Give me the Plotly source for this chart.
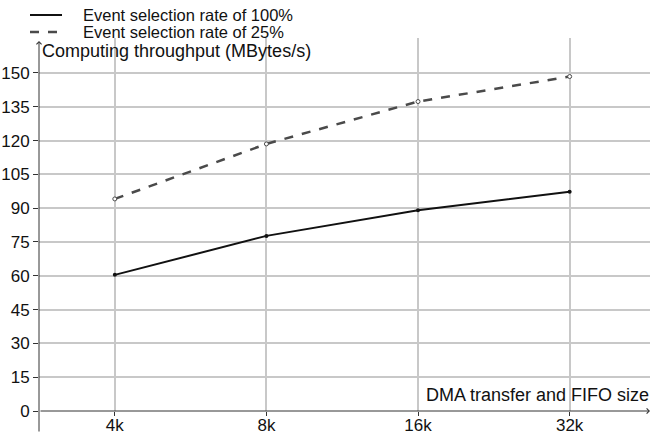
import plotly.graph_objects as go

categories = ["4k", "8k", "16k", "32k"]
rate_100 = [60.4, 77.7, 89.1, 97.3]
rate_25 = [94.1, 118.5, 137.3, 148.4]
y_ticks = [0, 15, 30, 45, 60, 75, 90, 105, 120, 135, 150]
series_names = ["Event selection rate of 100%", "Event selection rate of 25%"]

FONT = "Liberation Sans, Arial, sans-serif"

fig = go.Figure()
fig.add_trace(go.Scatter(
    x=categories, y=rate_100, mode="lines+markers", name=series_names[0],
    line=dict(color="#111111", width=2), marker=dict(size=4, color="#111111"),
    showlegend=False))
fig.add_trace(go.Scatter(
    x=categories, y=rate_25, mode="lines+markers", name=series_names[1],
    line=dict(color="#4a4a4a", width=2.5, dash="dash"),
    marker=dict(size=4, color="white", line=dict(color="#4a4a4a", width=1)),
    showlegend=False))

W, H = 655, 437
L, R, T, B = 39, 5, 38, 26

fig.update_layout(
    width=W, height=H,
    margin=dict(l=L, r=R, t=T, b=B, autoexpand=False),
    paper_bgcolor="white", plot_bgcolor="white",
    font=dict(family=FONT, size=17, color="#111111"),
    xaxis=dict(type="category", range=[-0.5, 3.53], showgrid=True, automargin=False,
               gridcolor="#c8c8c8", gridwidth=2, showline=False, zeroline=False,
               ticks="outside", ticklen=4, tickcolor="#333", tickfont=dict(size=17),
               ticklabelstandoff=-5),
    yaxis=dict(range=[0, 165.5], tickvals=y_ticks, showgrid=True, automargin=False,
               gridcolor="#c8c8c8", gridwidth=2, showline=False, zeroline=False,
               ticks="outside", ticklen=5, tickcolor="#333", tickfont=dict(size=17)),
)

# axis arrows
fig.add_annotation(x=0, y=1, xref="paper", yref="paper", ax=0, ay=392,
                   axref="pixel", ayref="pixel", showarrow=True, arrowhead=4,
                   arrowsize=1, arrowwidth=1, arrowcolor="#333", text="",
                   yshift=-3)
fig.add_annotation(x=1, y=0, xref="paper", yref="paper", ax=-611, ay=0,
                   axref="pixel", ayref="pixel", showarrow=True, arrowhead=4,
                   arrowsize=1, arrowwidth=1, arrowcolor="#333", text="")

# axis titles
fig.add_annotation(x=0, y=1, xref="paper", yref="paper", xanchor="left",
                   yanchor="middle", xshift=2, yshift=-13, showarrow=False,
                   borderpad=0,
                   text="Computing throughput (MBytes/s)", font=dict(size=18))
fig.add_annotation(x=1, y=0, xref="paper", yref="paper", xanchor="right",
                   yanchor="middle", yshift=16, showarrow=False, borderpad=0,
                   text="DMA transfer and FIFO size", font=dict(size=18))

# legend
leg_y = [15, 32]
styles = [dict(color="#111111", width=2), dict(color="#4a4a4a", width=2.5, dash="dash")]
for yy, st, name in zip(leg_y, styles, series_names):
    py = 1 + (T - yy) / (H - T - B)
    fig.add_shape(type="line", xref="paper", yref="paper",
                  x0=(30 - L) / (W - L - R), x1=(62 - L) / (W - L - R),
                  y0=py, y1=py, line=st)
    fig.add_annotation(x=(82 - L) / (W - L - R), y=py, xref="paper", yref="paper",
                       xanchor="left", yanchor="middle", showarrow=False,
                       borderpad=0, text=name, font=dict(size=16.5))

fig.write_html("out.html", config={"displayModeBar": False},
               post_script="document.body.style.margin='0';")
